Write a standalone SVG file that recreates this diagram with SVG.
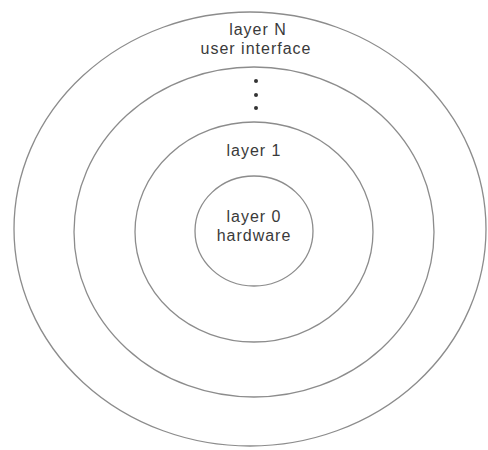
<svg xmlns="http://www.w3.org/2000/svg" width="488" height="450" viewBox="0 0 488 450">
<style>
.ring{fill:none;stroke:#8c8c8c;stroke-width:1.3}
.lbl{font-family:"Liberation Sans",Arial,sans-serif;font-size:16px;fill:#3a3a3a;text-anchor:middle;letter-spacing:1px}
.dot{fill:#333}
</style>
<rect width="488" height="450" fill="#fff"/>
<g id="layerN">
<ellipse class="ring" cx="250" cy="229" rx="236" ry="217"/>
<text class="lbl" x="258" y="35">layer N</text>
<text class="lbl" x="256" y="54">user interface</text>
</g>
<g id="layer-dots">
<ellipse class="ring" cx="254" cy="232" rx="180" ry="165"/>
<circle class="dot" cx="256" cy="81" r="2"/>
<circle class="dot" cx="256" cy="95" r="2"/>
<circle class="dot" cx="256" cy="108" r="2"/>
</g>
<g id="layer1">
<ellipse class="ring" cx="254" cy="232" rx="119" ry="110"/>
<text class="lbl" x="254" y="156">layer 1</text>
</g>
<g id="layer0">
<ellipse class="ring" cx="254" cy="231" rx="59" ry="55"/>
<text class="lbl" x="254" y="222">layer 0</text>
<text class="lbl" x="254" y="241">hardware</text>
</g>
</svg>
